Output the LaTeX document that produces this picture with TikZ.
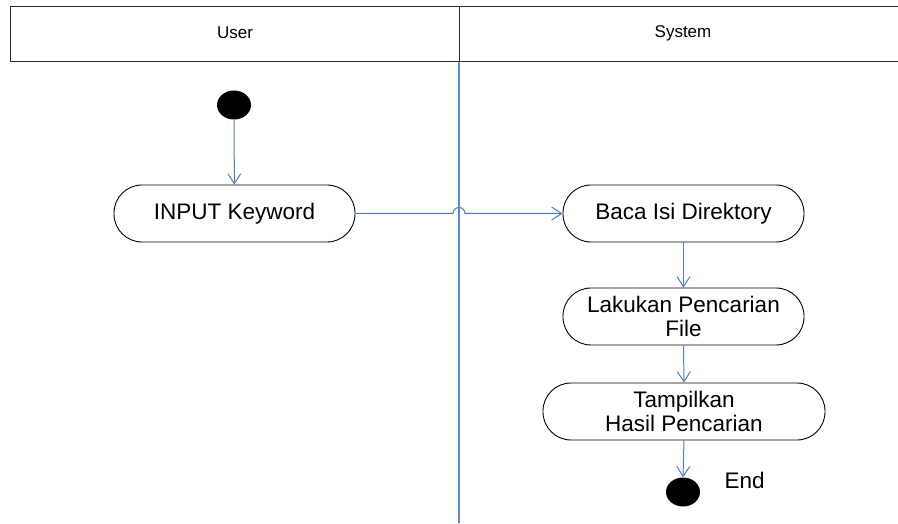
\documentclass[tikz,border=0pt]{standalone}
\usepackage{fontspec}
\setmainfont{Liberation Sans}
\usetikzlibrary{arrows.meta,shapes.geometric}

\definecolor{flowblue}{RGB}{78,124,204}
\definecolor{lanelineblue}{RGB}{90,136,214}
\definecolor{headline}{RGB}{40,40,40}

\begin{document}
\begin{tikzpicture}[x=1pt,y=1pt,yscale=-1,xscale=1,
  activity/.style={draw, line width=0.9pt, rounded corners=28pt, minimum width=241pt, minimum height=57pt, align=center, font=\fontsize{22.5}{24}\selectfont},
  blob/.style={ellipse, fill=black, minimum width=34pt, minimum height=29pt, inner sep=0pt},
  flow/.style={draw=flowblue, line width=1pt, -{Straight Barb[length=10pt,width=13pt]}},
  lanetext/.style={font=\fontsize{17}{20}\selectfont},
]
\useasboundingbox (0,0) rectangle (898,524);

%Swimlane header
\draw [line width=1pt, draw=headline] (898,7) -- (10,7) -- (10,62) -- (898,62);
\coordinate (lanetop) at (459,7);
\coordinate (lanemid) at (459,62);
\coordinate (lanebottom) at (459,523);
\draw [line width=1pt, draw=headline] (lanetop) -- (lanemid);
\draw [line width=1.1pt, draw=lanelineblue] (lanemid) -- (lanebottom);

% Text Node
\node [lanetext] (user) at (235,33) {User};
% Text Node
\node [lanetext] (system) at (683,33) {System};

%Start / end
\node [blob] (start) at (234,105) {};
\node [blob] (end) at (683,492) {};
\node [font=\fontsize{22.5}{24}\selectfont, anchor=west] (endlabel) at (721,480) {End};

%Activities
\node [activity] (input) at (234.5,213.5) {INPUT Keyword};
\node [activity] (baca) at (683.5,213.5) {Baca Isi Direktory};
\node [activity] (cari) at (683.5,316.5) {Lakukan Pencarian\\File};
\node [activity, minimum width=282pt] (hasil) at (684,411.5) {Tampilkan\\Hasil Pencarian};

%Flows
\draw [flow] (start) -- (input);
\draw [flow] (input.east) -- ([xshift=-6pt]input.east -| lanetop) arc [start angle=180, end angle=360, radius=6pt] -- (baca.west);
\draw [flow] (baca.south) -- (cari.north);
\draw [flow] (cari.south) -- (hasil.north);
\draw [flow] (hasil.south) -- (end.north);

\end{tikzpicture}
\end{document}
